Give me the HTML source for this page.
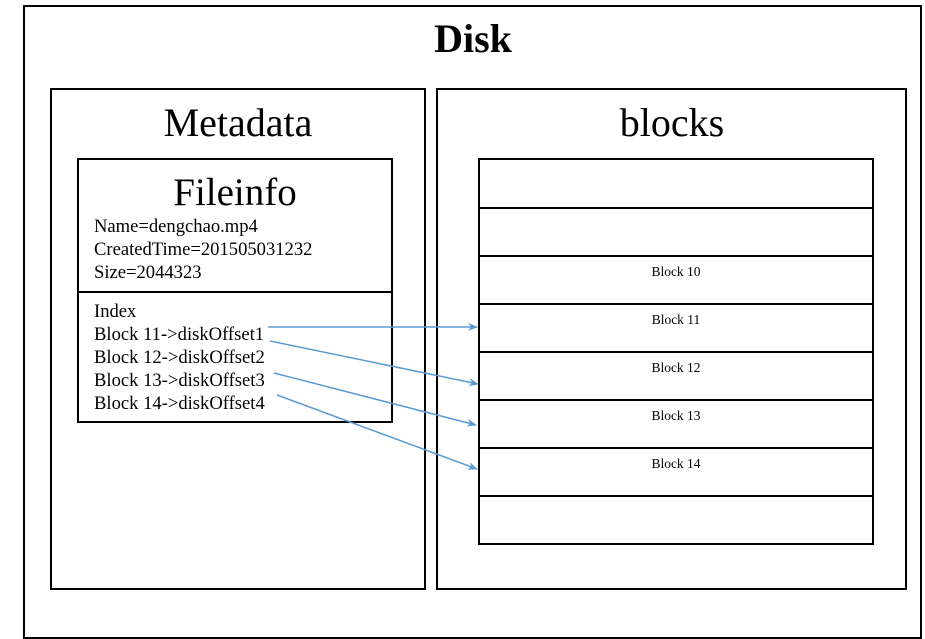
<!DOCTYPE html>
<html><head><meta charset="utf-8"><style>html,body{margin:0;padding:0;background:#fff}svg{display:block}</style></head>
<body>
<svg width="925" height="639" xmlns="http://www.w3.org/2000/svg" font-family="'Liberation Serif', serif">
<defs>
<marker id="ah" markerWidth="10" markerHeight="8" refX="9" refY="4" orient="auto" markerUnits="userSpaceOnUse">
<path d="M0,0 L10,4 L0,8 L3,4 z" fill="#5b9bd5"/>
</marker>
</defs>
<g fill="none" stroke="#000" stroke-width="2">
<rect x="24" y="6" width="897" height="632"/>
<rect x="51" y="89" width="374" height="500"/>
<rect x="437" y="89" width="469" height="500"/>
<rect x="78" y="159" width="314" height="263"/>
<line x1="78" y1="292" x2="392" y2="292"/>
<rect x="479" y="159" width="394" height="385"/>
<line x1="479" y1="208" x2="873" y2="208"/>
<line x1="479" y1="256" x2="873" y2="256"/>
<line x1="479" y1="304" x2="873" y2="304"/>
<line x1="479" y1="352" x2="873" y2="352"/>
<line x1="479" y1="400" x2="873" y2="400"/>
<line x1="479" y1="448" x2="873" y2="448"/>
<line x1="479" y1="496" x2="873" y2="496"/>
</g>
<text x="473" y="52" font-size="40" font-weight="bold" text-anchor="middle">Disk</text>
<text x="238" y="136" font-size="40" text-anchor="middle">Metadata</text>
<text x="672" y="136" font-size="40" text-anchor="middle">blocks</text>
<text x="235" y="205" font-size="39" text-anchor="middle">Fileinfo</text>
<g font-size="18.6">
<text x="94" y="232">Name=dengchao.mp4</text>
<text x="94" y="255">CreatedTime=201505031232</text>
<text x="94" y="278">Size=2044323</text>
<text x="94" y="317">Index</text>
<text x="94" y="340">Block 11-&gt;diskOffset1</text>
<text x="94" y="363">Block 12-&gt;diskOffset2</text>
<text x="94" y="386">Block 13-&gt;diskOffset3</text>
<text x="94" y="409">Block 14-&gt;diskOffset4</text>
</g>
<g font-size="13.5" text-anchor="middle">
<text x="676" y="276">Block 10</text>
<text x="676" y="324">Block 11</text>
<text x="676" y="372">Block 12</text>
<text x="676" y="420">Block 13</text>
<text x="676" y="468">Block 14</text>
</g>
<g stroke="#5b9bd5" stroke-width="1.5" fill="none" marker-end="url(#ah)">
<line x1="268" y1="327" x2="477" y2="327"/>
<line x1="270" y1="341" x2="478" y2="384"/>
<line x1="274" y1="373" x2="476" y2="425"/>
<line x1="277" y1="395" x2="477" y2="469"/>
</g>
</svg>
</body></html>
